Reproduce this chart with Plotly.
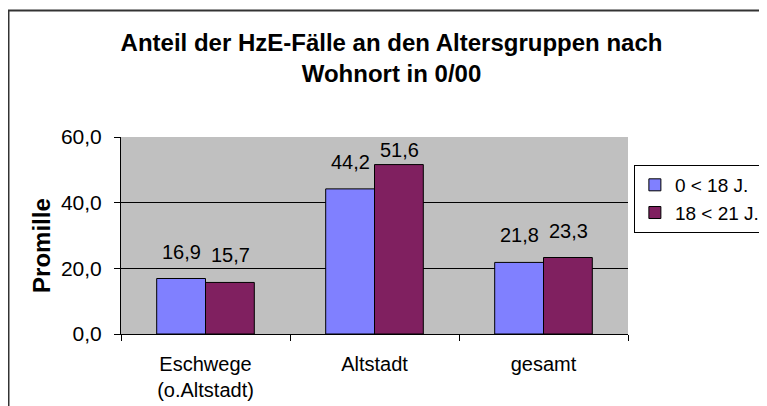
import plotly.graph_objects as go

categories = ["Eschwege<br>(o.Altstadt)", "Altstadt", "gesamt"]
series_names = ["0 < 18 J.", "18 < 21 J."]
values_u18 = [16.9, 44.2, 21.8]
values_18_21 = [15.7, 51.6, 23.3]
tick_vals = [0, 20, 40, 60]
y_range = [0, 60]
title_text = "Anteil der HzE-Fälle an den Altersgruppen nach<br>Wohnort in 0/00"
y_title = "Promille"

colors = ["#8080FF", "#802060"]
FONT = "Liberation Sans, Arial, sans-serif"
PLOT_H = 197  # plot area height in px
LABEL_GAP = 14
LABEL_H = 24

fig = go.Figure()
for name, vals, col in zip(series_names, [values_u18, values_18_21], colors):
    fig.add_trace(go.Bar(
        x=categories, y=vals, name=name,
        marker=dict(color=col, line=dict(color="black", width=1)),
    ))

def fmt(v):
    return f"{v:.1f}".replace(".", ",")

annotations = []
for i, vals in enumerate([values_u18, values_18_21]):
    shift = -24.5 if i == 0 else 24.5
    for c, v in zip(categories, vals):
        bar_px = v / (y_range[1] - y_range[0]) * PLOT_H
        if bar_px + LABEL_GAP + LABEL_H > PLOT_H - 2:
            # keep the label inside the plot area (like the original)
            annotations.append(dict(
                x=c, y=y_range[1], xref="x", yref="y", text=fmt(v), showarrow=False,
                xshift=shift, yshift=0, yanchor="top",
                font=dict(family=FONT, size=20, color="black")))
        else:
            annotations.append(dict(
                x=c, y=v, xref="x", yref="y", text=fmt(v), showarrow=False,
                xshift=shift, yshift=LABEL_GAP, yanchor="bottom",
                font=dict(family=FONT, size=20, color="black")))

annotations.append(dict(
    text=y_title, textangle=-90, x=-0.157, y=0.449, xref="paper", yref="paper",
    xanchor="center", yanchor="middle", showarrow=False,
    font=dict(family=FONT, size=24, color="black", weight="bold")))

fig.update_layout(
    width=767, height=406,
    margin=dict(l=113, r=147, t=129, b=80, autoexpand=False),
    paper_bgcolor="white", plot_bgcolor="#C0C0C0",
    barmode="group", bargap=0.4225, bargroupgap=0,
    separators=",.",
    font=dict(family=FONT, size=20, color="black"),
    title=dict(text=title_text, x=0.5, xanchor="center", y=0.894, yanchor="middle",
               xref="container", yref="container",
               font=dict(family=FONT, size=24, color="black", weight="bold")),
    xaxis=dict(showline=True, linecolor="black", linewidth=1, ticks="outside",
               tickson="boundaries", ticklen=6, tickcolor="black",
               showgrid=False, tickfont=dict(size=20), automargin=False,
               ticklabelstandoff=12),
    yaxis=dict(range=y_range, tickvals=tick_vals, tickformat=".1f",
               showline=True, linecolor="black", linewidth=1,
               ticks="outside", ticklen=6, tickcolor="black",
               showgrid=True, gridcolor="black", gridwidth=1,
               zeroline=False, tickfont=dict(size=21), automargin=False,
               ticklabelstandoff=8),
    legend=dict(x=1.270, y=0.858, xanchor="right", yanchor="top",
                bordercolor="black", borderwidth=1, bgcolor="white",
                font=dict(family=FONT, size=19), tracegroupgap=0,
                itemwidth=30),
    showlegend=True,
    annotations=annotations,
    shapes=[dict(type="rect", xref="paper", yref="paper",
                 x0=-0.2219, x1=1.4, y0=-0.5, y1=1.6421,
                 line=dict(color="#333333", width=2), fillcolor="rgba(0,0,0,0)",
                 layer="above")],
)

fig.write_html("out.html")
